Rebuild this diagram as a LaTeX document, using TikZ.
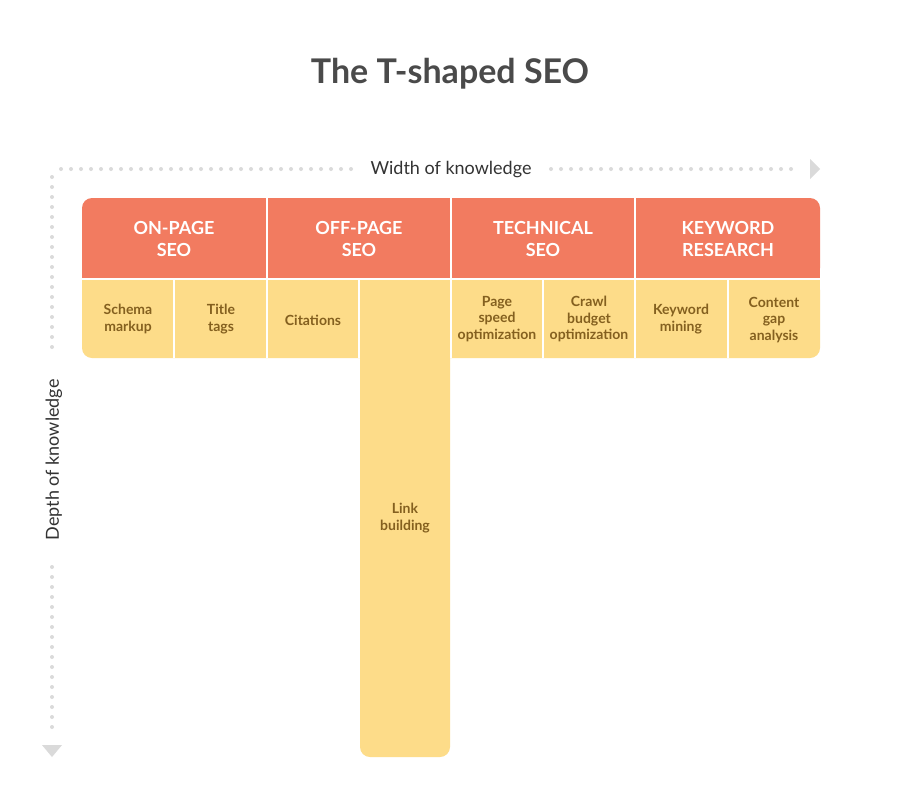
\documentclass[tikz,border=0pt]{standalone}
\usepackage{fontspec}
\setmainfont{Lato}
\definecolor{hdr}{HTML}{F27B60}
\definecolor{subc}{HTML}{FDDC89}
\definecolor{subtxt}{HTML}{84601F}
\definecolor{ttl}{HTML}{4A4A4A}
\definecolor{axisc}{HTML}{DADADA}
\definecolor{axtxt}{HTML}{333333}
\tikzset{
  hdrtext/.style={text=white, font=\fontsize{18}{22.5}\selectfont\bfseries, align=center, inner sep=0pt},
  subtext/.style={text=subtxt, font=\fontsize{14}{16.7}\selectfont\bfseries, align=center, inner sep=0pt},
  dotline/.style={axisc, line width=4pt, line cap=round, dash pattern=on 0pt off 10pt},
  axislabel/.style={text=axtxt, font=\fontsize{18}{20}\selectfont, inner sep=0pt},
  sep/.style={white, line width=2pt}
}
\begin{document}
\begin{tikzpicture}[x=1pt,y=-1pt]
\useasboundingbox[fill=white] (0,0) rectangle (900,785);
% title
\node[text=ttl, font=\fontsize{34}{40}\selectfont\bfseries, anchor=base, inner sep=0pt] (title) at (450,83) {The T-shaped SEO};
% header row
\fill[hdr, rounded corners=10pt] (82,198) rectangle (820,278);
\fill[hdr] (82,250) rectangle (820,278);
% sub row
\fill[subc, rounded corners=10pt] (82,280) rectangle (820,358);
\fill[subc] (82,280) rectangle (820,320);
% link building column
\fill[subc, rounded corners=10pt] (360,280) rectangle (450,757);
\fill[subc] (360,280) rectangle (450,720);
% separators
\draw[sep] (82,279) -- (820,279);
\draw[sep] (267,198) -- (267,358);
\draw[sep] (451,198) -- (451,358);
\draw[sep] (635,198) -- (635,358);
\draw[sep] (174,280) -- (174,358);
\draw[sep] (359,280) -- (359,358);
\draw[sep] (543,280) -- (543,358);
\draw[sep] (728,280) -- (728,358);
% header texts
\node[hdrtext] (onpage) at (174,239) {ON-PAGE\\SEO};
\node[hdrtext] (offpage) at (359,239) {OFF-PAGE\\SEO};
\node[hdrtext] (technical) at (543,239) {TECHNICAL\\SEO};
\node[hdrtext] (keyword) at (728,239) {KEYWORD\\RESEARCH};
% sub texts
\node[subtext] (schema) at (128,319) {Schema\\markup};
\node[subtext] (titletags) at (221,319) {Title\\tags};
\node[subtext] (citations) at (313,320) {Citations};
\node[subtext] (link) at (405,518) {Link\\building};
\node[subtext] (pagespeed) at (497,319) {Page\\speed\\optimization};
\node[subtext] (crawl) at (589,319) {Crawl\\budget\\optimization};
\node[subtext] (mining) at (681,319) {Keyword\\mining};
\node[subtext] (gap) at (774,320) {Content\\gap\\analysis};
% width axis
\node[axislabel] (width) at (451,169.5) {Width of knowledge};
\coordinate (w1) at (61,169);
\coordinate (w2) at (361,169);
\coordinate (w3) at (551,169);
\coordinate (w4) at (801,169);
\draw[dotline] (w1) -- (w2);
\draw[dotline] (w3) -- (w4);
\fill[axisc] (810,159) -- (820,169) -- (810,179) -- cycle;
% depth axis
\node[axislabel, rotate=90] (depth) at (54,460) {Depth of knowledge};
\coordinate (d1) at (52,177);
\coordinate (d2) at (52,357);
\coordinate (d3) at (52,567);
\coordinate (d4) at (52,737);
\draw[dotline] (d1) -- (d2);
\draw[dotline] (d3) -- (d4);
\fill[axisc] (42,745) -- (62,745) -- (52,757) -- cycle;
\end{tikzpicture}
\end{document}
